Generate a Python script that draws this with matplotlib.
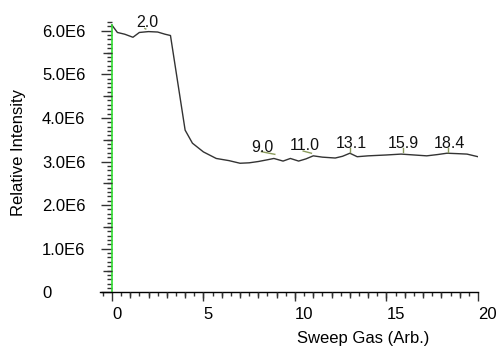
import matplotlib
matplotlib.use('Agg')
import matplotlib.pyplot as plt
from matplotlib.ticker import MultipleLocator, FuncFormatter
import numpy as np

plt.rcParams['font.family'] = ['Liberation Sans', 'DejaVu Sans']

# sweep gas vs relative intensity (values in units of 1E6)
sweep = [0, 0.3, 0.7, 1.15, 1.5, 2.0, 2.5, 2.9, 3.2, 4.0, 4.4, 5.0, 5.7, 6.4,
         7.0, 7.5, 8.0, 8.5, 8.85, 9.35, 9.75, 10.2, 10.6, 11.0, 11.5, 12.2,
         12.6, 13.0, 13.4, 14.0, 14.5, 15.0, 15.8, 16.5, 17.2, 17.8, 18.3,
         18.9, 19.4, 20.0]
intensity = [6.13, 5.96, 5.92, 5.85, 5.96, 5.98, 5.97, 5.92, 5.89, 3.72, 3.42,
             3.22, 3.07, 3.02, 2.96, 2.97, 3.00, 3.04, 3.07, 3.01, 3.07, 3.01,
             3.06, 3.13, 3.10, 3.08, 3.12, 3.19, 3.11, 3.13, 3.14, 3.15, 3.17,
             3.15, 3.13, 3.16, 3.19, 3.18, 3.17, 3.11]

# peak labels: text, text x, baseline y, marker segment (x0, y0, x1, y1)
peak_text = ['2.0', '9.0', '11.0', '13.1', '15.9', '18.4']
peak_tx = [1.94, 8.22, 10.55, 13.1, 15.92, 18.45]
peak_ty = [6.09, 3.225, 3.26, 3.30, 3.30, 3.30]
peak_mark = [(1.8, 6.05, 1.85, 6.04), (8.17, 3.225, 8.9, 3.165),
             (10.45, 3.24, 10.9, 3.19), (13.0, 3.30, 13.0, 3.22),
             (15.9, 3.30, 15.9, 3.22), (18.34, 3.30, 18.34, 3.22)]

fig = plt.figure(figsize=(4.99, 3.46), dpi=100)
ax = fig.add_axes([100/499, 53.7/346, 378/499, 270.3/346])

ax.plot(sweep, np.array(intensity) * 1e6, color='#333333', lw=1.0)

for t, tx, ty, m in zip(peak_text, peak_tx, peak_ty, peak_mark):
    ax.text(tx, ty * 1e6, t, ha='center', va='baseline', fontsize=11.5, color='#111111')
    ax.plot([m[0], m[2]], [m[1] * 1e6, m[3] * 1e6], color='#8a9a5b', lw=1.0)

ax.set_xlim(-0.65, 20)
ax.set_ylim(0, 6.2e6)

for s in ['top', 'right']:
    ax.spines[s].set_visible(False)
ax.spines['left'].set_position(('data', 0))
ax.spines['left'].set_color('#33dd33')
ax.spines['left'].set_bounds(0, 6.13e6)
ax.spines['left'].set_linewidth(1.2)
ax.spines['bottom'].set_linewidth(1.0)

ax.xaxis.set_major_locator(MultipleLocator(5))
ax.xaxis.set_minor_locator(MultipleLocator(0.5))
ax.yaxis.set_major_locator(MultipleLocator(1e6))
ax.yaxis.set_minor_locator(MultipleLocator(1e5))
ax.yaxis.set_major_formatter(FuncFormatter(lambda v, p: '0' if v == 0 else '%.1fE6' % (v / 1e6)))

ax.tick_params(axis='x', which='major', length=6.5, width=1, pad=4, labelsize=12, color='#333333')
ax.tick_params(axis='x', which='minor', length=3, width=1, color='#333333')
ax.tick_params(axis='y', which='major', length=8, width=1, pad=42.4, labelsize=12, color='#333333')
ax.tick_params(axis='y', which='minor', length=3.6, width=1, color='#333333')
for lab in ax.get_xticklabels():
    lab.set_horizontalalignment('left')
for lab in ax.get_yticklabels():
    lab.set_horizontalalignment('left')

# medium ticks (integers on x, half millions on y)
axx = ax.twiny()
axx.set_xlim(ax.get_xlim())
axx.xaxis.set_ticks_position('bottom')
axx.set_xticks(np.arange(1, 20, 1))
axx.tick_params(axis='x', length=4.5, width=1, labelbottom=False, labeltop=False, color='#333333')
for s in axx.spines.values():
    s.set_visible(False)

axy = ax.twinx()
axy.set_ylim(ax.get_ylim())
axy.yaxis.set_ticks_position('left')
axy.spines['left'].set_position(('data', 0))
axy.set_yticks(np.arange(0.5e6, 6.1e6, 1e6))
axy.tick_params(axis='y', length=6.5, width=1, labelleft=False, labelright=False, color='#333333')
for s in axy.spines.values():
    s.set_visible(False)

fig.text(363/499, 1 - 338/346, 'Sweep Gas (Arb.)', ha='center', va='center', fontsize=12)
fig.text(18.3/499, 1 - 153/346, 'Relative Intensity', ha='center', va='center', rotation=90, fontsize=12)

fig.savefig('out.png', dpi=100)
